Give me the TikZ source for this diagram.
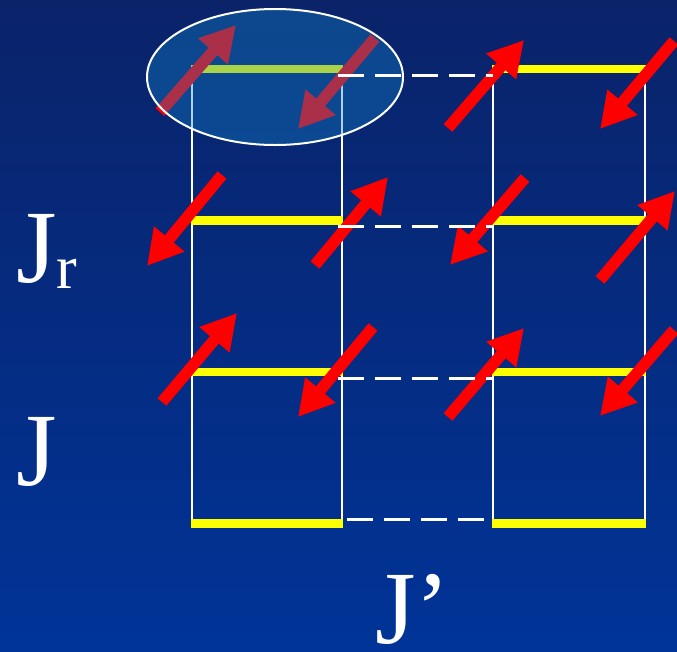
\documentclass[tikz,border=0pt]{standalone}
\usepackage{fontspec}
\setmainfont{Liberation Serif}
\usetikzlibrary{arrows.meta}
\definecolor{bgtop}{RGB}{10,35,105}
\definecolor{bgbot}{RGB}{0,52,152}
\definecolor{rungcol}{RGB}{255,255,0}
\definecolor{spincol}{RGB}{255,0,0}
\definecolor{glass}{RGB}{20,135,205}
\begin{document}
\begin{tikzpicture}[x=1pt,y=-1pt,
  spinarrow/.style={draw=spincol, line width=11.5pt, -{Triangle[width=37pt,length=35pt]}},
  rail/.style={draw=white, line width=2pt},
  rungline/.style={draw=rungcol, line width=8.5pt},
  bond/.style={draw=white, line width=3pt, dash pattern=on 26pt off 11pt},
  lab/.style={text=white, inner sep=0pt, text depth=0pt, font=\fontsize{104}{104}\selectfont},
  sublab/.style={text=white, inner sep=0pt, text depth=0pt, font=\fontsize{62}{62}\selectfont}]
\fill[top color=bgtop, bottom color=bgbot] (0,0) rectangle (677,651);
\useasboundingbox (0,0) rectangle (677,651);
% rails
\draw[rail] (192,69) -- (192,523);
\draw[rail] (342,69) -- (342,523);
\draw[rail] (493,69) -- (493,523);
\draw[rail] (645,69) -- (645,523);
% rungs
\foreach \y in {69,220.5,372,523.5}{
  \draw[rungline] (191,\y) -- (343,\y);
  \draw[rungline] (492,\y) -- (646,\y);
}
% spins
\coordinate (t1) at (160,112); \coordinate (h1) at (236,25);
\coordinate (t2) at (375,38);  \coordinate (h2) at (298,129);
\coordinate (t3) at (448,128); \coordinate (h3) at (524,40);
\coordinate (t4) at (674,41);  \coordinate (h4) at (600,129);
\coordinate (t5) at (222,175); \coordinate (h5) at (147,266);
\coordinate (t6) at (315,265); \coordinate (h6) at (388,177);
\coordinate (t7) at (525,178); \coordinate (h7) at (450,265);
\coordinate (t8) at (600,280); \coordinate (h8) at (675,191);
\coordinate (t9) at (162,402); \coordinate (h9) at (237,313);
\coordinate (t10) at (373,327); \coordinate (h10) at (298,417);
\coordinate (t11) at (448,417); \coordinate (h11) at (524,328);
\coordinate (t12) at (674,330); \coordinate (h12) at (600,416);
\foreach \i in {1,...,12}{
  \draw[spinarrow] (t\i) -- (h\i);
}
% highlighted rung
\draw[white, line width=2pt, fill=glass, fill opacity=0.36] (275,77) ellipse [x radius=128, y radius=68];
% interladder bonds
\draw[bond] (338,75) -- (493,75);
\draw[bond] (338,226) -- (493,226);
\draw[bond] (338,378) -- (493,378);
\draw[bond] (346.6,519.5) -- (493,519.5);
% labels
\node[lab, anchor=base west] (jr) at (16,282) {J};
\node[sublab, anchor=base west] (r) at (56,288) {r};
\node[lab, anchor=base west] (j) at (16,485) {J};
\node[lab, anchor=base west] (jp) at (375,643) {J’};
\end{tikzpicture}
\end{document}
